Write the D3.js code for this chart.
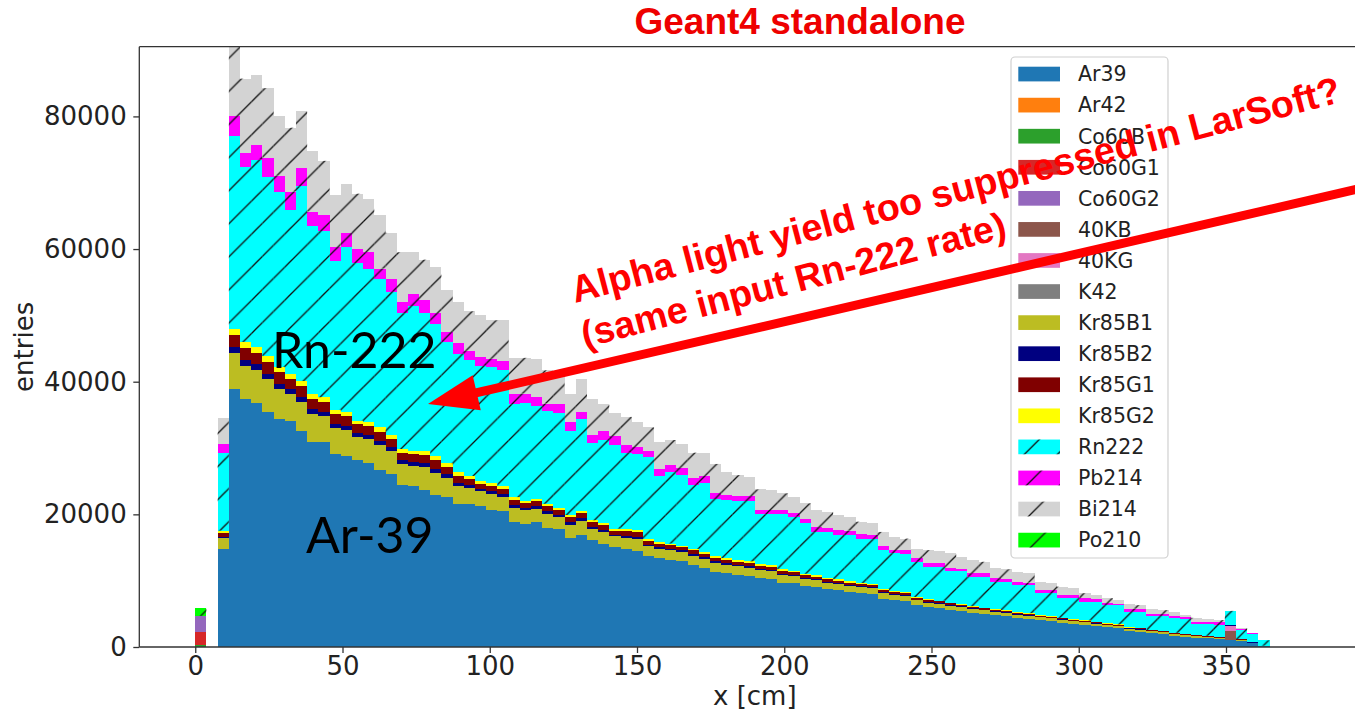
<!DOCTYPE html>
<html>
<head>
<meta charset="utf-8">
<script src="https://cdn.jsdelivr.net/npm/d3@7"></script>
<style>
  html, body { margin: 0; padding: 0; background: #fff; }
  svg { display: block; }
</style>
</head>
<body>
<svg id="chart" width="1355" height="715"></svg>
<script>
// Histogram binning along x [cm]: 100 bins of 3.8 cm from 0 to 380
const binEdges = d3.range(101).map(i => +(i * 3.8).toFixed(1));

// Tick values
const xTickValues = [0, 50, 100, 150, 200, 250, 300, 350];
const yTickValues = [0, 20000, 40000, 60000, 80000];

// Entries per bin for each simulated source (stacked bottom to top)
const ar39 = [
  0, 0, 14750, 38850, 37400, 36850, 35500, 34450, 34000, 32550,
  30950, 30950, 29050, 28800, 28250, 27700, 26650, 26100, 24450, 24200,
  23650, 22850, 22600, 21500, 21500, 21250, 20700, 20450, 18800, 18550,
  18800, 18000, 17750, 16400, 16950, 16150, 15600, 15050, 14800, 14500,
  13700, 13350, 13150, 12900, 12350, 11950, 11300, 11100, 10900, 10700,
  10400, 10300, 9700, 9600, 9200, 9000, 8700, 8550, 8300, 8100,
  8000, 7300, 7100, 6900, 6300, 6000, 5850, 5600, 5400, 5150,
  5000, 4750, 4650, 4400, 4250, 4000, 3900, 3650, 3500, 3300,
  3150, 2950, 2800, 2450, 2300, 2050, 1950, 1700, 1550, 1400,
  1300, 1150, 1050, 900, 550, 150, 0, 0, 0, 0];
const ar42 = [
  0, 0, 0, 0, 0, 0, 0, 0, 0, 0,  0, 0, 0, 0, 0, 0, 0, 0, 0, 0,
  0, 0, 0, 0, 0, 0, 0, 0, 0, 0,  0, 0, 0, 0, 0, 0, 0, 0, 0, 0,
  0, 0, 0, 0, 0, 0, 0, 0, 0, 0,  0, 0, 0, 0, 0, 0, 0, 0, 0, 0,
  0, 0, 0, 0, 0, 0, 0, 0, 0, 0,  0, 0, 0, 0, 0, 0, 0, 0, 0, 0,
  0, 0, 0, 0, 0, 0, 0, 0, 0, 0,  0, 0, 0, 0, 0, 0, 0, 0, 0, 0];
const co60b = [
  300, 0, 0, 0, 0, 0, 0, 0, 0, 0,  0, 0, 0, 0, 0, 0, 0, 0, 0, 0,
  0, 0, 0, 0, 0, 0, 0, 0, 0, 0,  0, 0, 0, 0, 0, 0, 0, 0, 0, 0,
  0, 0, 0, 0, 0, 0, 0, 0, 0, 0,  0, 0, 0, 0, 0, 0, 0, 0, 0, 0,
  0, 0, 0, 0, 0, 0, 0, 0, 0, 0,  0, 0, 0, 0, 0, 0, 0, 0, 0, 0,
  0, 0, 0, 0, 0, 0, 0, 0, 0, 0,  0, 0, 0, 0, 0, 0, 0, 0, 0, 0];
const co60g1 = [
  2000, 0, 0, 0, 0, 0, 0, 0, 0, 0,  0, 0, 0, 0, 0, 0, 0, 0, 0, 0,
  0, 0, 0, 0, 0, 0, 0, 0, 0, 0,  0, 0, 0, 0, 0, 0, 0, 0, 0, 0,
  0, 0, 0, 0, 0, 0, 0, 0, 0, 0,  0, 0, 0, 0, 0, 0, 0, 0, 0, 0,
  0, 0, 0, 0, 0, 0, 0, 0, 0, 0,  0, 0, 0, 0, 0, 0, 0, 0, 0, 0,
  0, 0, 0, 0, 0, 0, 0, 0, 0, 0,  0, 0, 0, 0, 0, 0, 0, 0, 0, 0];
const co60g2 = [
  2400, 0, 0, 0, 0, 0, 0, 0, 0, 0,  0, 0, 0, 0, 0, 0, 0, 0, 0, 0,
  0, 0, 0, 0, 0, 0, 0, 0, 0, 0,  0, 0, 0, 0, 0, 0, 0, 0, 0, 0,
  0, 0, 0, 0, 0, 0, 0, 0, 0, 0,  0, 0, 0, 0, 0, 0, 0, 0, 0, 0,
  0, 0, 0, 0, 0, 0, 0, 0, 0, 0,  0, 0, 0, 0, 0, 0, 0, 0, 0, 0,
  0, 0, 0, 0, 0, 0, 0, 0, 0, 0,  0, 0, 0, 0, 0, 0, 0, 0, 0, 0];
const k40b = [
  0, 0, 0, 0, 0, 0, 0, 0, 0, 0,  0, 0, 0, 0, 0, 0, 0, 0, 0, 0,
  0, 0, 0, 0, 0, 0, 0, 0, 0, 0,  0, 0, 0, 0, 0, 0, 0, 0, 0, 0,
  0, 0, 0, 0, 0, 0, 0, 0, 0, 0,  0, 0, 0, 0, 0, 0, 0, 0, 0, 0,
  0, 0, 0, 0, 0, 0, 0, 0, 0, 0,  0, 0, 0, 0, 0, 0, 0, 0, 0, 0,
  0, 0, 0, 0, 0, 0, 0, 0, 0, 0,  0, 0, 1400, 0, 0, 0, 0, 0, 0, 0];
const k40g = [
  0, 0, 0, 0, 0, 0, 0, 0, 0, 0,  0, 0, 0, 0, 0, 0, 0, 0, 0, 0,
  0, 0, 0, 0, 0, 0, 0, 0, 0, 0,  0, 0, 0, 0, 0, 0, 0, 0, 0, 0,
  0, 0, 0, 0, 0, 0, 0, 0, 0, 0,  0, 0, 0, 0, 0, 0, 0, 0, 0, 0,
  0, 0, 0, 0, 0, 0, 0, 0, 0, 0,  0, 0, 0, 0, 0, 0, 0, 0, 0, 0,
  0, 0, 0, 0, 0, 0, 0, 0, 0, 0,  0, 0, 700, 0, 0, 0, 0, 0, 0, 0];
const k42 = [
  0, 0, 0, 0, 0, 0, 0, 0, 0, 0,  0, 0, 0, 0, 0, 0, 0, 0, 0, 0,
  0, 0, 0, 0, 0, 0, 0, 0, 0, 0,  0, 0, 0, 0, 0, 0, 0, 0, 0, 0,
  0, 0, 0, 0, 0, 0, 0, 0, 0, 0,  0, 0, 0, 0, 0, 0, 0, 0, 0, 0,
  0, 0, 0, 0, 0, 0, 0, 0, 0, 0,  0, 0, 0, 0, 0, 0, 0, 0, 0, 0,
  0, 0, 0, 0, 0, 0, 0, 0, 0, 0,  0, 0, 0, 0, 0, 0, 0, 0, 0, 0];
const kr85b1 = [
  0, 0, 1650, 5450, 5000, 4900, 4850, 4500, 4150, 4400,
  4200, 3900, 3900, 3900, 3400, 3600, 3750, 3400, 3150, 3150,
  3450, 3450, 2950, 2800, 2500, 2200, 2350, 2200, 2200, 2050,
  2050, 2100, 1900, 2050, 2100, 1700, 1800, 1650, 1700, 1800,
  1500, 1450, 1400, 1400, 1400, 1350, 1400, 1330, 1300, 1280,
  1220, 1160, 1160, 1100, 1070, 1040, 990, 960, 930, 900,
  870, 840, 810, 780, 730, 700, 670, 640, 610, 580,
  550, 550, 520, 490, 490, 460, 440, 440, 410, 410,
  380, 350, 350, 320, 320, 290, 290, 260, 260, 230,
  230, 200, 90, 170, 120, 30, 0, 0, 0, 0];
const kr85b2 = [
  0, 0, 250, 900, 850, 850, 800, 750, 700, 700,
  700, 650, 650, 650, 600, 600, 650, 600, 550, 550,
  600, 600, 500, 500, 450, 350, 400, 350, 400, 350,
  350, 350, 300, 350, 350, 300, 300, 250, 300, 300,
  250, 250, 250, 250, 250, 200, 250, 230, 230, 220,
  210, 200, 200, 190, 190, 180, 170, 170, 160, 160,
  150, 150, 140, 140, 130, 120, 120, 110, 110, 100,
  100, 100, 90, 90, 90, 80, 80, 80, 70, 70,
  70, 60, 60, 60, 60, 50, 50, 50, 50, 40,
  40, 40, 10, 30, 20, 0, 0, 0, 0, 0];
const kr85g1 = [
  0, 0, 550, 1850, 1850, 1800, 1800, 1700, 1550, 1650,
  1600, 1450, 1500, 1450, 1300, 1350, 1400, 1300, 1150, 1150,
  1300, 1300, 1100, 1050, 900, 800, 900, 800, 800, 750,
  750, 800, 700, 750, 800, 650, 700, 600, 650, 700,
  550, 550, 550, 500, 550, 500, 500, 460, 450, 440,
  420, 400, 400, 380, 370, 360, 340, 330, 320, 310,
  300, 290, 280, 270, 250, 240, 230, 220, 210, 200,
  190, 190, 180, 170, 170, 160, 150, 150, 140, 140,
  130, 120, 120, 110, 110, 100, 100, 90, 90, 80,
  80, 70, 30, 60, 40, 10, 0, 0, 0, 0];
const kr85g2 = [
  0, 0, 350, 850, 900, 900, 900, 850, 750, 800,
  750, 700, 700, 700, 600, 650, 650, 600, 550, 550,
  600, 600, 550, 500, 450, 400, 400, 400, 400, 350,
  350, 350, 350, 350, 350, 300, 300, 300, 300, 300,
  250, 250, 250, 250, 250, 250, 250, 280, 270, 260,
  250, 240, 240, 230, 220, 220, 200, 190, 190, 180,
  180, 170, 170, 160, 140, 140, 130, 130, 120, 120,
  110, 110, 110, 100, 100, 100, 80, 80, 80, 80,
  70, 70, 70, 60, 60, 60, 60, 50, 50, 50,
  50, 40, 20, 40, 20, 10, 0, 0, 0, 0];
const rn222 = [
  0, 0, 11700, 29080, 26400, 28200, 26950, 26400, 24800, 29350,
  25300, 25050, 22350, 24800, 23700, 23150, 22350, 21550, 20450, 21800,
  20700, 19900, 18300, 17900, 17500, 17400, 17500, 17500, 14000, 14800,
  14000, 14000, 14250, 12650, 13900, 11650, 12500, 12550, 11550, 11450,
  12350, 9950, 10750, 10650, 9650, 10500, 8600, 8750, 8900, 9100,
  7500, 7700, 8350, 8150, 7600, 6500, 6900, 6700, 7000, 6600,
  6750, 5850, 5600, 5800, 5300, 4900, 5100, 4800, 5050, 4450,
  4650, 4150, 4300, 4100, 4200, 3300, 3450, 2950, 3150, 2850,
  3050, 2750, 2900, 2300, 2450, 2100, 2200, 2150, 2250, 1650,
  1750, 1800, 2150, 1350, 1150, 800, 0, 0, 0, 0];
const pb214 = [
  0, 0, 1350, 3070, 2150, 2150, 2950, 2400, 2700, 2700,
  2150, 2450, 2150, 2150, 2150, 2450, 1600, 2000, 1650, 1800,
  2000, 1600, 1450, 1600, 1350, 1350, 1200, 1450, 1600, 1350,
  1350, 1100, 1350, 1350, 1050, 1250, 1350, 1350, 1100, 1100,
  1000, 1100, 1100, 1050, 1100, 1050, 900, 750, 750, 700,
  650, 650, 600, 600, 600, 750, 650, 750, 650, 800,
  700, 600, 500, 550, 500, 500, 500, 350, 300, 500,
  500, 500, 450, 400, 400, 500, 450, 500, 450, 500,
  450, 300, 250, 500, 450, 400, 350, 350, 300, 350,
  300, 400, 0, 150, 250, 0, 0, 0, 0, 0];
const bi214 = [
  0, 0, 3900, 11500, 11150, 10600, 10500, 9000, 9650, 8600,
  9150, 8150, 7800, 7350, 8350, 8050, 8100, 6900, 7550, 6400,
  6100, 7000, 6350, 6100, 5950, 6300, 5800, 6100, 5400, 5400,
  5800, 5000, 4300, 4300, 4850, 5400, 4050, 3500, 4300, 3750,
  3500, 4050, 3750, 3650, 3750, 3500, 4400, 3500, 3100, 2950,
  3100, 3000, 2500, 2400, 2400, 2600, 2450, 2250, 2100, 1850,
  1700, 2150, 2000, 1750, 1500, 2000, 1900, 2350, 1800, 2000,
  1750, 1500, 1400, 1600, 1400, 1250, 1150, 1250, 1050, 750,
  550, 750, 550, 750, 550, 750, 550, 650, 250, 600,
  500, 350, 0, 100, 0, 0, 0, 0, 0, 0];
const po210 = [
  1150, 0, 0, 0, 0, 0, 0, 0, 0, 0,  0, 0, 0, 0, 0, 0, 0, 0, 0, 0,
  0, 0, 0, 0, 0, 0, 0, 0, 0, 0,  0, 0, 0, 0, 0, 0, 0, 0, 0, 0,
  0, 0, 0, 0, 0, 0, 0, 0, 0, 0,  0, 0, 0, 0, 0, 0, 0, 0, 0, 0,
  0, 0, 0, 0, 0, 0, 0, 0, 0, 0,  0, 0, 0, 0, 0, 0, 0, 0, 0, 0,
  0, 0, 0, 0, 0, 0, 0, 0, 0, 0,  0, 0, 0, 0, 0, 0, 0, 0, 0, 0];

const sourceNames = ["Ar39", "Ar42", "Co60B", "Co60G1", "Co60G2", "40KB", "40KG", "K42",
  "Kr85B1", "Kr85B2", "Kr85G1", "Kr85G2", "Rn222", "Pb214", "Bi214", "Po210"];
const sourceValues = [ar39, ar42, co60b, co60g1, co60g2, k40b, k40g, k42,
  kr85b1, kr85b2, kr85g1, kr85g2, rn222, pb214, bi214, po210];
const sourceColors = ["#1f77b4", "#ff7f0e", "#2ca02c", "#d62728", "#9467bd", "#8c564b", "#e377c2", "#7f7f7f",
  "#bcbd22", "#000080", "#800000", "#ffff00", "#00ffff", "#ff00ff", "#d3d3d3", "#00ff00"];
const hatchedSources = ["Rn222", "Pb214", "Bi214", "Po210"];

// ---- layout ----
const svg = d3.select("#chart");
const plotLeft = 139.3, plotRight = 1370.3, plotTop = 46.7, plotBottom = 647;
const x = d3.scaleLinear().domain([-19, 399]).range([plotLeft, plotRight]);
const y = d3.scaleLinear().domain([0, 90510]).range([plotBottom, plotTop]);
const color = d3.scaleOrdinal().domain(sourceNames).range(sourceColors);

const defs = svg.append("defs");
defs.append("clipPath").attr("id", "plot-clip")
  .append("rect")
  .attr("x", plotLeft).attr("y", plotTop)
  .attr("width", plotRight - plotLeft).attr("height", plotBottom - plotTop);

// single diagonal hatch, anchored to page coordinates
const HATCH = 33.1;
const hatch = defs.append("pattern")
  .attr("id", "hatch")
  .attr("patternUnits", "userSpaceOnUse")
  .attr("width", HATCH).attr("height", HATCH)
  .attr("patternTransform", "translate(22.3,0)");
hatch.append("path")
  .attr("d", `M0,${HATCH} L${HATCH},0 M-3,3 L3,-3 M${HATCH - 3},${HATCH + 3} L${HATCH + 3},${HATCH - 3}`)
  .attr("stroke", "#111").attr("stroke-width", 1.3).attr("fill", "none");

// ---- stacked histogram ----
const rows = binEdges.slice(0, -1).map((lo, i) => {
  const r = { lo, hi: binEdges[i + 1] };
  sourceNames.forEach((n, k) => { r[n] = sourceValues[k][i]; });
  return r;
});
const layers = d3.stack().keys(sourceNames)(rows);

const barsG = svg.append("g").attr("clip-path", "url(#plot-clip)");
layers.forEach(layer => {
  const segs = layer.filter(d => d[1] - d[0] > 0);
  const g = barsG.append("g");
  g.selectAll("rect.fill").data(segs).join("rect")
    .attr("class", "fill")
    .attr("x", d => x(d.data.lo))
    .attr("width", d => x(d.data.hi) - x(d.data.lo))
    .attr("y", d => y(d[1]))
    .attr("height", d => y(d[0]) - y(d[1]))
    .attr("fill", color(layer.key))
    .attr("shape-rendering", "crispEdges");
  if (hatchedSources.includes(layer.key)) {
    g.selectAll("rect.hatch").data(segs).join("rect")
      .attr("class", "hatch")
      .attr("x", d => x(d.data.lo))
      .attr("width", d => x(d.data.hi) - x(d.data.lo))
      .attr("y", d => y(d[1]))
      .attr("height", d => y(d[0]) - y(d[1]))
      .attr("fill", "url(#hatch)");
  }
});

// ---- axes ----
const axisColor = "#333";
const tickFont = "DejaVu Sans, sans-serif";

const xAxisG = svg.append("g")
  .attr("transform", `translate(0,${plotBottom})`)
  .call(d3.axisBottom(x).tickValues(xTickValues).tickSize(6).tickSizeOuter(0).tickPadding(4).tickFormat(d3.format("d")));
const yAxisG = svg.append("g")
  .attr("transform", `translate(${plotLeft},0)`)
  .call(d3.axisLeft(y).tickValues(yTickValues).tickSize(6).tickSizeOuter(0).tickPadding(6.6).tickFormat(d3.format("d")));
[xAxisG, yAxisG].forEach(g => {
  g.select(".domain").remove();
  g.attr("font-family", tickFont).attr("font-size", 26);
  g.selectAll(".tick line").attr("stroke", axisColor).attr("stroke-width", 1.3);
  g.selectAll(".tick text").attr("fill", "#222");
});

// spines (right spine lies outside the visible area)
const spines = svg.append("g").attr("stroke", axisColor).attr("stroke-width", 1.3).attr("fill", "none");
spines.append("line").attr("x1", plotLeft).attr("x2", plotLeft).attr("y1", plotTop).attr("y2", plotBottom);
spines.append("line").attr("x1", plotLeft).attr("x2", plotRight).attr("y1", plotBottom).attr("y2", plotBottom);
spines.append("line").attr("x1", plotLeft).attr("x2", plotRight).attr("y1", plotTop).attr("y2", plotTop);

svg.append("text")
  .attr("x", (plotLeft + plotRight) / 2).attr("y", 705)
  .attr("text-anchor", "middle")
  .attr("font-family", tickFont).attr("font-size", 26).attr("fill", "#222")
  .text("x [cm]");
svg.append("text")
  .attr("transform", `translate(33,${(plotTop + plotBottom) / 2}) rotate(-90)`)
  .attr("text-anchor", "middle")
  .attr("font-family", tickFont).attr("font-size", 26).attr("fill", "#222")
  .text("entries");

// ---- legend ----
const legendG = svg.append("g");
legendG.append("rect")
  .attr("x", 1011).attr("y", 57).attr("width", 157).attr("height", 501)
  .attr("rx", 4).attr("ry", 4)
  .attr("fill", "#fff").attr("fill-opacity", 0.8)
  .attr("stroke", "#d0d0d0").attr("stroke-width", 1.2);
const legendStep = 31.07;
sourceNames.forEach((n, i) => {
  const py = 66.7 + legendStep * i;
  legendG.append("rect")
    .attr("x", 1018.3).attr("y", py).attr("width", 41.7).attr("height", 14.7)
    .attr("fill", color(n));
  if (hatchedSources.includes(n)) {
    legendG.append("rect")
      .attr("x", 1018.3).attr("y", py).attr("width", 41.7).attr("height", 14.7)
      .attr("fill", "url(#hatch)");
  }
  legendG.append("text")
    .attr("x", 1078).attr("y", py + 14.7)
    .attr("font-family", tickFont).attr("font-size", 20.5).attr("fill", "#222")
    .text(n);
});

// ---- labels on the stack ----
const labelFont = "Lato, 'Open Sans', sans-serif";
svg.append("text")
  .attr("x", 272).attr("y", 368)
  .attr("font-family", labelFont).attr("font-size", 50).attr("fill", "#000")
  .text("Rn-222");
svg.append("text")
  .attr("x", 306).attr("y", 553)
  .attr("font-family", labelFont).attr("font-size", 50).attr("fill", "#000")
  .text("Ar-39");

// ---- title and annotation ----
const boldFont = "'Liberation Sans', Arial, sans-serif";
svg.append("text")
  .attr("x", 800).attr("y", 34)
  .attr("text-anchor", "middle")
  .attr("font-family", boldFont).attr("font-weight", "bold").attr("font-size", 37)
  .attr("fill", "#ee0000")
  .text("Geant4 standalone");

const annoAngle = -14.7;
svg.append("text")
  .attr("transform", `translate(575,303) rotate(${annoAngle})`)
  .attr("font-family", boldFont).attr("font-weight", "bold").attr("font-size", 37.8)
  .attr("fill", "#ff0000")
  .text("Alpha light yield too suppressed in LarSoft?");
svg.append("text")
  .attr("transform", `translate(585,348) rotate(${annoAngle})`)
  .attr("font-family", boldFont).attr("font-weight", "bold").attr("font-size", 37.5)
  .attr("fill", "#ff0000")
  .text("(same input Rn-222 rate)");

// arrow pointing into the Rn-222 band
const tail = [1362, 188], tip = [428, 404];
const dx = tail[0] - tip[0], dy = tail[1] - tip[1];
const len = Math.hypot(dx, dy);
const ux = dx / len, uy = dy / len, nx = -uy, ny = ux;
const headLen = 50, headHalf = 18;
const base = [tip[0] + ux * headLen, tip[1] + uy * headLen];
svg.append("line")
  .attr("x1", tail[0]).attr("y1", tail[1])
  .attr("x2", base[0] + ux * -2).attr("y2", base[1] + uy * -2)
  .attr("stroke", "#ff0000").attr("stroke-width", 9);
svg.append("path")
  .attr("d", `M${tip[0]},${tip[1]} L${base[0] + nx * headHalf},${base[1] + ny * headHalf} L${base[0] - nx * headHalf},${base[1] - ny * headHalf} Z`)
  .attr("fill", "#ff0000");
</script>
</body>
</html>
